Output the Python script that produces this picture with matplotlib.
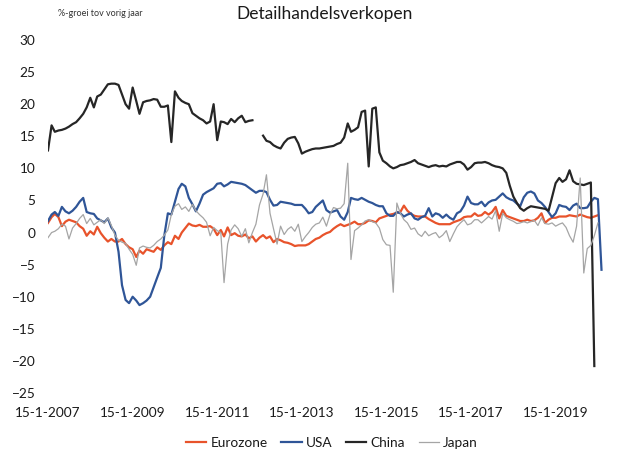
import numpy as np
import pandas as pd
import matplotlib
matplotlib.use("Agg")
from matplotlib import pyplot as plt
import matplotlib.dates as mdates

nan = np.nan

# monthly yoy % growth, Jan 2007 .. Feb 2020 (one row per year)
eurozone = [
    1.5, 2.4, 2.9, 2.4, 1.0, 1.7, 2.0, 1.8, 1.6, 1.0, 0.6, -0.5,
    0.2, -0.3, 0.9, -0.1, -0.8, -1.4, -1.0, -1.4, -1.4, -1.0, -1.8, -2.3,
    -2.6, -3.8, -2.8, -3.3, -2.6, -2.8, -3.0, -2.3, -2.7, -2.0, -1.5, -1.8,
    -0.5, -1.0, 0.0, 0.7, 1.4, 1.1, 1.0, 1.2, 0.9, 0.9, 1.0, 0.6,
    -0.4, 0.4, -0.6, 0.8, -0.4, -0.1, -0.5, -0.6, -0.3, -0.9, -0.6, -1.4,
    -0.8, -0.4, -0.9, -0.6, -1.5, -1.0, -1.2, -1.5, -1.6, -1.8, -2.1, -2.0,
    -2.0, -2.0, -1.8, -1.4, -1.0, -0.8, -0.4, -0.1, 0.1, 0.6, 1.0, 1.3,
    1.0, 1.2, 1.4, 1.7, 1.3, 1.3, 1.5, 1.9, 1.8, 1.6, 2.2, 2.4,
    2.6, 2.8, 2.9, 3.1, 3.2, 4.2, 3.4, 2.9, 2.6, 2.5, 2.5, 2.5,
    2.1, 1.8, 1.5, 1.3, 1.3, 1.3, 1.3, 1.6, 1.8, 2.0, 2.4, 2.5,
    2.5, 3.0, 2.6, 2.7, 3.2, 2.8, 3.2, 4.0, 2.2, 3.5, 2.6, 2.4,
    2.2, 2.0, 1.8, 1.8, 2.0, 1.8, 1.9, 2.3, 3.0, 1.5, 2.0, 2.3,
    2.3, 2.5, 2.5, 2.5, 2.7, 2.6, 2.5, 2.8, 2.6, 2.4, 2.3, 2.5,
    2.7, nan,
]

usa = [
    1.8, 2.8, 3.2, 2.6, 4.0, 3.3, 3.0, 3.4, 4.0, 4.8, 5.4, 3.2,
    3.0, 2.9, 2.2, 1.9, 1.6, 2.2, 0.8, 0.0, -3.0, -8.2, -10.5, -11.0,
    -10.0, -10.6, -11.3, -11.0, -10.6, -10.0, -8.5, -7.0, -5.5, -0.5, 3.0, 2.8,
    4.8, 6.8, 7.6, 7.2, 5.4, 4.4, 3.3, 4.5, 5.9, 6.3, 6.6, 6.9,
    7.6, 7.7, 7.2, 7.5, 7.9, 7.8, 7.7, 7.6, 7.4, 7.0, 6.6, 6.2,
    6.5, 6.5, 6.3, 5.1, 4.2, 4.3, 4.8, 4.7, 4.6, 4.5, 4.3, 4.3,
    4.3, 3.7, 3.0, 3.2, 4.0, 4.5, 5.0, 3.5, 3.1, 3.3, 3.5, 2.5,
    2.0, 3.2, 5.4, 5.2, 5.1, 5.4, 5.1, 4.8, 4.6, 4.3, 4.1, 4.1,
    3.0, 2.6, 2.6, 3.2, 3.0, 2.5, 2.8, 3.0, 2.2, 2.0, 2.4, 2.6,
    3.8, 2.5, 3.0, 2.8, 2.3, 2.8, 2.3, 2.0, 3.0, 3.3, 4.2, 5.6,
    4.6, 4.4, 4.4, 4.8, 4.1, 4.7, 5.0, 5.1, 5.6, 6.1, 5.5, 5.2,
    5.0, 4.5, 4.1, 5.5, 6.2, 6.4, 6.1, 5.0, 4.6, 4.0, 3.2, 2.4,
    3.0, 4.3, 4.1, 4.0, 3.5, 4.2, 4.5, 3.8, 3.8, 3.9, 4.8, 5.4,
    5.2, -5.8,
]

china = [
    12.8, 16.7, 15.7, 15.9, 16.0, 16.2, 16.5, 16.9, 17.2, 17.8, 18.5, 19.5,
    21.0, 19.5, 21.2, 21.5, 22.3, 23.1, 23.2, 23.2, 23.0, 21.5, 20.0, 19.3,
    22.6, 20.5, 18.5, 20.3, 20.5, 20.6, 20.8, 20.7, 19.6, 19.6, 19.8, 14.1,
    22.0, 21.0, 20.5, 20.2, 20.0, 18.6, 18.2, 17.8, 17.5, 17.0, 17.3, 20.0,
    14.4, 17.3, 17.2, 16.9, 17.7, 17.2, 17.8, 18.2, 17.2, 17.4, 17.5, nan,
    nan, 15.1, 14.3, 14.1, 13.6, 13.3, 13.1, 14.0, 14.6, 14.8, 14.9, 13.9,
    12.3, 12.6, 12.8, 13.0, 13.1, 13.1, 13.2, 13.3, 13.4, 13.5, 13.8, 14.0,
    14.8, 17.0, 15.7, 16.0, 16.4, 18.8, 19.0, 10.3, 19.3, 19.5, 12.5, 11.2,
    10.8, 10.3, 10.0, 10.2, 10.5, 10.6, 10.8, 11.0, 11.3, 10.8, 10.6, 10.4,
    10.2, 10.4, 10.5, 10.3, 10.4, 10.3, 10.6, 10.8, 11.0, 11.0, 10.6, 9.8,
    10.2, 10.8, 10.9, 10.9, 11.0, 10.8, 10.5, 10.3, 10.2, 10.0, 9.3, 7.3,
    5.6, 4.6, 3.8, 3.4, 3.8, 4.1, 4.0, 3.9, 3.8, 3.7, 3.4, 5.5,
    7.7, 8.5, 7.9, 8.3, 9.7, 8.0, 7.6, 7.5, 7.4, 7.6, 7.8, -20.8,
    nan, nan,
]

japan = [
    -0.8, 0.0, 0.2, 0.6, 1.3, 1.0, -1.0, 0.7, 1.4, 2.2, 2.8, 1.4,
    2.2, 1.2, 1.6, 2.0, 1.4, 2.3, 1.1, -0.4, -1.2, -1.5, -1.7, -2.6,
    -3.4, -5.1, -2.4, -2.1, -2.3, -2.4, -2.0, -1.4, -1.0, -0.4, 0.4, 2.8,
    4.1, 4.5, 3.6, 4.0, 3.3, 4.4, 3.4, 2.8, 2.3, 1.6, -0.5, 0.8,
    0.3, 0.0, -7.8, -1.8, 0.4, 1.2, 0.6, -0.6, 0.6, -1.6, 0.0, 1.3,
    4.3, 6.0, 9.0, 3.0, 0.6, -1.8, 1.0, -0.3, 0.5, 0.9, 0.2, 1.3,
    -1.4, -0.6, 0.0, 0.8, 1.3, 1.5, 2.4, 1.0, 2.8, 3.9, 3.7, 3.8,
    4.5, 10.8, -4.2, 0.3, 0.7, 1.2, 1.8, 2.0, 1.7, 1.5, 0.7, -1.1,
    -1.9, -2.0, -9.3, 4.6, 3.0, 2.0, 1.5, 0.5, 0.7, -0.2, -0.6, 0.2,
    -0.5, -0.2, 0.0, -0.8, -0.4, 0.3, -1.4, -0.2, 0.9, 1.5, 2.0, 1.2,
    1.4, 2.0, 2.0, 1.5, 2.0, 2.5, 2.1, 3.4, 0.2, 3.0, 2.3, 2.0,
    1.75, 1.4, 1.5, 1.7, 1.5, 1.7, 1.9, 1.1, 2.3, 1.4, 1.3, 1.5,
    1.0, 1.3, 1.5, 0.8, -0.5, -1.5, 1.0, 8.5, -6.3, -2.5, -2.0, -0.5,
    1.5, nan,
]

dates = pd.date_range("2007-01-01", periods=len(usa), freq="MS") + pd.Timedelta(days=14)
tick_years = [2007, 2009, 2011, 2013, 2015, 2017, 2019]

plt.rcParams["font.family"] = ["Lato", "DejaVu Sans"]

fig = plt.figure(figsize=(6.34, 4.61), dpi=100)
ax = fig.add_axes([0.0757, 0.1475, 0.884, 0.7657])

ax.plot(dates, eurozone, color="#E8532B", lw=1.6, label="Eurozone")
ax.plot(dates, usa, color="#2F5597", lw=1.6, label="USA")
ax.plot(dates, china, color="#262626", lw=1.6, label="China")
ax.plot(dates, japan, color="#A5A5A5", lw=0.9, label="Japan")

ax.set_ylim(-25, 30)
ax.set_yticks(range(-25, 31, 5))
ax.set_xlim(pd.Timestamp("2007-01-15"), pd.Timestamp("2020-04-15"))
ax.set_xticks([pd.Timestamp(f"{y}-01-15") for y in tick_years])
ax.xaxis.set_major_formatter(mdates.DateFormatter("%d-%m-%Y"))
ax.set_xticklabels([f"15-1-{y}" for y in tick_years])

for s in ax.spines.values():
    s.set_visible(False)
ax.tick_params(axis="both", length=0, labelsize=9.8, colors="#1a1a1a")
ax.tick_params(axis="y", pad=9)
ax.tick_params(axis="x", pad=10)

fig.text(325 / 634, 1 - 14 / 461, "Detailhandelsverkopen", ha="center", va="center",
         fontsize=12.5, color="#1a1a1a")
fig.text(58 / 634, 1 - 13 / 461, "%-groei tov vorig jaar", ha="left", va="center",
         fontsize=6.5, color="#333333")

fig.legend(loc="center", bbox_to_anchor=(332 / 634, 1 - 443 / 461), ncol=4,
           frameon=False, fontsize=9.8, handlelength=1.5, handletextpad=0.3,
           columnspacing=1.0, labelcolor="#1a1a1a")

fig.savefig("out.png", dpi=100)
